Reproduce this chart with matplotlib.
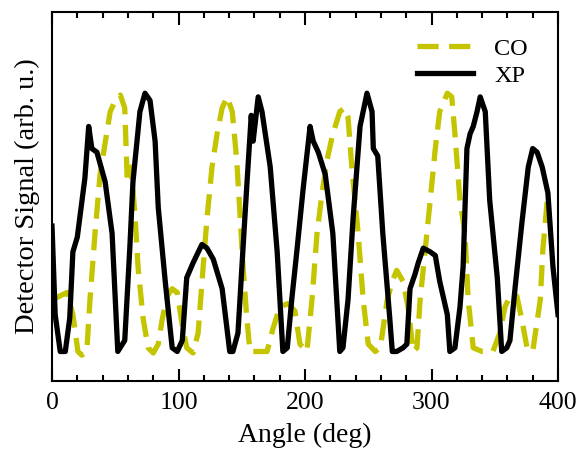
"""Detector signal versus angle for CO and XP polarisation."""

import matplotlib

matplotlib.use("Agg")
import matplotlib.pyplot as plt
from matplotlib.ticker import MultipleLocator

# CO (co-polarised) trace
co_angle = [0, 6, 12, 16.5, 20.5, 23.5, 27.5, 30, 34, 38, 42, 46, 50, 54, 57.5,
            59.5, 62.5, 65.5, 68, 72, 76, 80, 84, 87, 91, 95, 99, 103, 106.5,
            111.5, 115.5, 119.5, 122.5, 126.5, 130.5, 134.5, 138.5, 142.5, 146,
            148.5, 151, 154, 156.5, 160.5, 170, 174.5, 180, 186.5, 192, 196,
            201.5, 205.5, 209.5, 213.5, 217.5, 222, 227.5, 231.5, 234, 237, 239.5,
            242, 246, 250, 255.5, 259.5, 265, 269, 272.5, 277.5, 281.5, 285.5,
            288.5, 291, 295, 299, 303, 306.5, 312.5, 316, 318.5, 322.5, 326.5,
            329, 333, 340, 348.5, 354, 358, 362, 367.5, 371.5, 375.5, 380, 386,
            388, 391.5, 392]
co_signal = [0.22, 0.23, 0.24, 0.18, 0.08, 0.07, 0.08, 0.22, 0.40, 0.56, 0.645,
             0.73, 0.76, 0.775, 0.74, 0.54, 0.58, 0.455, 0.31, 0.17, 0.09, 0.076,
             0.10, 0.165, 0.23, 0.25, 0.24, 0.15, 0.09, 0.076, 0.13, 0.31, 0.44,
             0.58, 0.67, 0.74, 0.77, 0.73, 0.60, 0.46, 0.31, 0.17, 0.08, 0.08,
             0.08, 0.14, 0.20, 0.21, 0.19, 0.10, 0.08, 0.22, 0.40, 0.51, 0.60,
             0.67, 0.73, 0.74, 0.715, 0.58, 0.49, 0.40, 0.22, 0.10, 0.08, 0.09,
             0.22, 0.27, 0.30, 0.27, 0.20, 0.08, 0.09, 0.22, 0.355, 0.49, 0.63,
             0.73, 0.78, 0.77, 0.67, 0.49, 0.40, 0.22, 0.09, 0.08, 0.08, 0.13,
             0.20, 0.23, 0.23, 0.165, 0.09, 0.08, 0.22, 0.355, 0.49, 0.50]

# XP (cross-polarised) trace
xp_angle = [0, 2.5, 6.5, 10.5, 14, 16.5, 20, 26, 29, 31.5, 35.5, 42, 47.5, 52,
            57.5, 61.5, 64, 69.5, 73.5, 77.5, 81.5, 84, 89.5, 95, 99, 103, 106.5,
            111.5, 118.5, 122.5, 127.5, 134.5, 140.5, 143, 147, 151, 154, 157.5,
            159, 163, 166, 172.5, 178, 182.5, 186, 189.5, 193.5, 198.5, 204,
            206.5, 210.5, 216, 222, 227.5, 230, 234, 238, 243.5, 249, 253, 254,
            257.5, 261.5, 267, 269, 272.5, 277.5, 280.5, 283, 287, 289.5, 293.5,
            299, 303, 306.5, 312.5, 314.5, 318.5, 322.5, 325, 328, 330.5, 333,
            336, 338.5, 342.5, 346, 352, 355.5, 359.5, 362, 366, 371.5, 376.5,
            380, 383.5, 387.5, 392, 396, 400]
xp_signal = [0.42, 0.18, 0.08, 0.08, 0.17, 0.35, 0.39, 0.55, 0.69, 0.63, 0.62,
             0.54, 0.40, 0.08, 0.11, 0.36, 0.54, 0.73, 0.78, 0.76, 0.65, 0.47,
             0.27, 0.09, 0.08, 0.11, 0.28, 0.32, 0.37, 0.36, 0.33, 0.25, 0.08,
             0.08, 0.13, 0.36, 0.53, 0.72, 0.65, 0.77, 0.73, 0.58, 0.35, 0.08,
             0.09, 0.22, 0.35, 0.52, 0.69, 0.65, 0.62, 0.56, 0.40, 0.08, 0.09,
             0.22, 0.44, 0.69, 0.78, 0.73, 0.63, 0.61, 0.40, 0.17, 0.08, 0.08,
             0.09, 0.10, 0.25, 0.29, 0.32, 0.36, 0.35, 0.34, 0.27, 0.18, 0.08,
             0.09, 0.20, 0.31, 0.63, 0.67, 0.69, 0.73, 0.77, 0.73, 0.49, 0.28,
             0.08, 0.09, 0.11, 0.25, 0.43, 0.58, 0.63, 0.62, 0.58, 0.51, 0.31,
             0.18]

CO_COLOR = "#c4c400"


def main() -> None:
    plt.rcParams["font.family"] = ["Liberation Serif", "DejaVu Serif"]

    fig = plt.figure(figsize=(5.87, 4.5), dpi=100)
    ax = fig.add_axes([0.0886, 0.1533, 0.862, 0.82])

    ax.plot(co_angle, co_signal, color=CO_COLOR, lw=3.8, ls=(0, (4, 2)),
            label="CO", dash_capstyle="butt")
    ax.plot(xp_angle, xp_signal, color="black", lw=3.8, label="XP",
            solid_joinstyle="round")

    ax.set_xlim(0, 400)
    ax.set_ylim(0, 1)
    ax.xaxis.set_major_locator(MultipleLocator(100))
    ax.xaxis.set_minor_locator(MultipleLocator(20))
    ax.tick_params(axis="x", which="both", direction="in", top=True,
                   width=1.5, labelsize=18.5, pad=8)
    ax.tick_params(axis="x", which="major", length=9)
    ax.tick_params(axis="x", which="minor", length=4)
    ax.set_yticks([])
    for spine in ax.spines.values():
        spine.set_linewidth(1.5)

    ax.set_xlabel("Angle (deg)", fontsize=20, labelpad=6)
    ax.set_ylabel("Detector Signal (arb. u.)", fontsize=20.5, labelpad=9)

    ax.legend(loc="upper right", frameon=False, fontsize=17.5, handlelength=2.3,
              handletextpad=0.85, labelspacing=0.2, borderpad=0.0,
              borderaxespad=0.0, bbox_to_anchor=(0.94, 0.93))

    fig.savefig("out.png", dpi=100)
    plt.close(fig)


if __name__ == "__main__":
    main()
